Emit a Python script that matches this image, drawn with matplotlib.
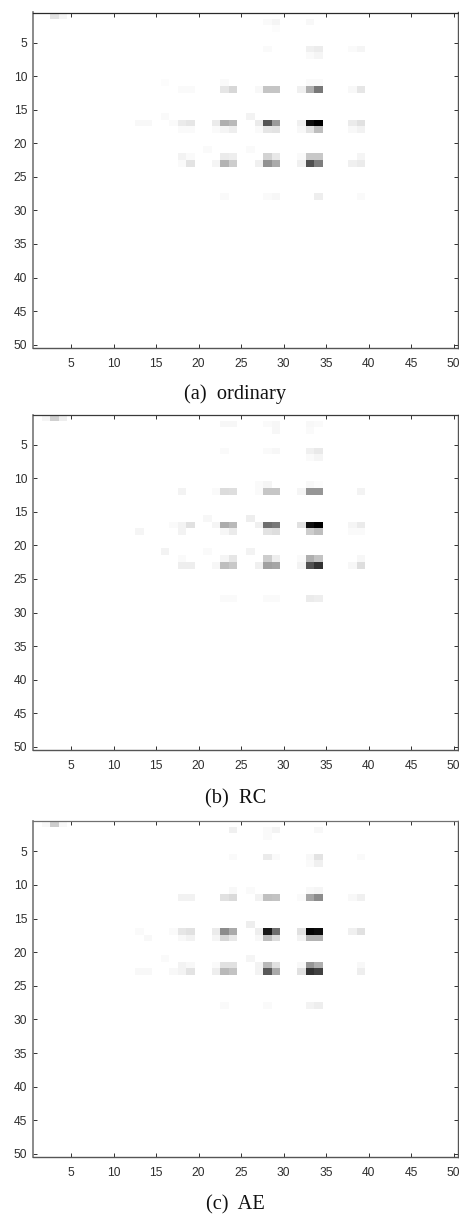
import numpy as np
import matplotlib
matplotlib.use("Agg")
import matplotlib.pyplot as plt

# Each entry: (row, column, gray level; 255 = white, 0 = black)
ordinary_cells = [
    (1,3,228),(1,4,245),
    (2,28,250),(2,29,245),(2,33,248),(3,29,252),
    (6,28,250),(6,33,240),(6,34,236),(6,38,250),(6,39,245),(7,33,250),(7,34,245),
    (11,16,252),(11,23,250),(11,33,250),(11,34,250),
    (12,18,250),(12,19,250),(12,23,230),(12,24,215),(12,27,248),(12,28,197),(12,29,197),
    (12,32,240),(12,33,175),(12,34,120),(12,38,248),(12,39,230),
    (16,16,250),(16,26,243),
    (17,13,248),(17,14,248),(17,17,250),(17,18,235),(17,19,230),(17,22,235),(17,23,175),(17,24,185),
    (17,27,235),(17,28,85),(17,29,155),(17,32,240),(17,33,15),(17,34,0),(17,38,235),(17,39,225),
    (18,18,250),(18,19,250),(18,22,250),(18,23,245),(18,24,238),(18,27,250),(18,28,230),(18,29,228),
    (18,32,248),(18,33,228),(18,34,190),(18,38,248),(18,39,242),
    (21,21,250),(21,26,250),
    (22,18,243),(22,19,250),(22,23,235),(22,24,238),(22,28,212),(22,29,232),(22,32,250),(22,33,200),
    (22,34,200),(22,39,245),
    (23,18,250),(23,19,228),(23,22,245),(23,23,180),(23,24,205),(23,27,240),(23,28,145),(23,29,170),
    (23,32,240),(23,33,80),(23,34,125),(23,38,240),(23,39,235),
    (28,23,250),(28,28,250),(28,29,247),(28,34,238),(28,39,250),
]
rc_cells = [
    (1,2,245),(1,3,208),(1,4,238),
    (2,23,247),(2,24,247),(2,28,250),(2,29,247),(2,33,248),(2,34,250),(3,29,247),(3,33,250),
    (6,23,250),(6,28,250),(6,29,247),(6,33,240),(6,34,233),(7,33,250),(7,34,245),
    (11,27,250),(11,28,245),(11,33,248),(11,34,252),
    (12,18,243),(12,22,250),(12,23,220),(12,24,222),(12,27,250),(12,28,198),(12,29,198),
    (12,32,245),(12,33,150),(12,34,150),(12,39,243),
    (16,21,247),(16,26,238),
    (17,17,250),(17,18,243),(17,19,225),(17,22,245),(17,23,172),(17,24,185),(17,27,240),(17,28,110),
    (17,29,120),(17,32,225),(17,33,15),(17,34,0),(17,38,245),(17,39,235),
    (18,13,245),(18,18,243),(18,23,247),(18,24,235),(18,28,228),(18,29,222),(18,33,205),(18,34,190),
    (18,38,250),(18,39,250),
    (21,16,243),(21,21,250),(21,26,243),
    (22,18,250),(22,23,245),(22,24,230),(22,28,205),(22,29,238),(22,32,250),(22,33,175),(22,34,195),
    (22,39,247),
    (23,18,238),(23,19,238),(23,22,247),(23,23,190),(23,24,200),(23,27,240),(23,28,160),(23,29,165),
    (23,32,243),(23,33,80),(23,34,50),(23,38,247),(23,39,222),
    (28,23,250),(28,24,250),(28,28,250),(28,29,250),(28,33,235),(28,34,238),
]
ae_cells = [
    (1,2,248),(1,3,205),(1,4,248),
    (2,24,240),(2,28,250),(2,29,243),(2,34,248),(3,28,250),
    (6,24,250),(6,28,235),(6,29,250),(6,33,248),(6,34,228),(6,39,250),(7,33,250),(7,34,240),
    (11,24,248),(11,26,250),(11,33,248),(11,34,245),
    (12,18,242),(12,19,242),(12,23,225),(12,24,218),(12,27,242),(12,28,192),(12,29,195),
    (12,32,250),(12,33,165),(12,34,140),(12,38,248),(12,39,240),
    (16,26,238),
    (17,13,250),(17,17,250),(17,18,230),(17,19,225),(17,22,235),(17,23,140),(17,24,170),(17,27,238),
    (17,28,25),(17,29,110),(17,32,225),(17,33,5),(17,34,12),(17,38,240),(17,39,225),
    (18,14,248),(18,18,248),(18,19,242),(18,22,245),(18,23,215),(18,24,232),(18,27,248),(18,28,190),
    (18,29,220),(18,32,243),(18,33,180),(18,34,180),
    (21,16,250),(21,26,245),
    (22,18,243),(22,19,248),(22,22,250),(22,23,225),(22,24,225),(22,27,243),(22,28,185),(22,29,225),
    (22,32,248),(22,33,150),(22,34,175),(22,39,248),
    (23,13,248),(23,14,248),(23,17,248),(23,18,243),(23,19,228),(23,22,238),(23,23,185),(23,24,195),
    (23,27,243),(23,28,90),(23,29,170),(23,32,225),(23,33,50),(23,34,65),(23,39,238),
    (28,23,250),(28,28,250),(28,33,243),(28,34,238),
]
captions = ["(a)  ordinary", "(b)  RC", "(c)  AE"]
panels = [ordinary_cells, rc_cells, ae_cells]
tick_values = [5, 10, 15, 20, 25, 30, 35, 40, 45, 50]
matrix_size = 50

W, H = 459, 1215
fig = plt.figure(figsize=(W / 100, H / 100), dpi=100)
left, right = 32.75, 458.0
tops = [12.5, 414.7, 821.0]
bottoms = [348.0, 750.0, 1157.3]
caption_y = [394.5, 799.0, 1205.0]
top_colors = ["#2a2a2a", "#3a3a3a", "#707070"]

for cells, caption, top, bottom, cy, tc in zip(panels, captions, tops, bottoms, caption_y, top_colors):
    ax = fig.add_axes([left / W, 1 - bottom / H, (right - left) / W, (bottom - top) / H])
    m = np.full((matrix_size, matrix_size), 255.0)
    for r, c, g in cells:
        m[r - 1, c - 1] = g
    ax.imshow(m, cmap="gray", vmin=0, vmax=255, aspect="auto", interpolation="nearest",
              extent=(0.5, matrix_size + 0.5, matrix_size + 0.5, 0.5))
    ax.set_xticks(tick_values)
    ax.set_yticks(tick_values)
    ax.tick_params(direction="in", length=3.0, width=0.7, top=True, right=True,
                   color="#303030", labelcolor="#2e2e2e", labelsize=8.65)
    ax.xaxis.set_tick_params(pad=7)
    ax.yaxis.set_tick_params(pad=4)
    for lab in ax.get_xticklabels() + ax.get_yticklabels():
        lab.set_fontfamily("Liberation Sans")
        lab.set_clip_on(False)
    ax.spines["top"].set_color(tc)
    ax.spines["top"].set_linewidth(0.9)
    ax.spines["bottom"].set_color("#555555")
    ax.spines["bottom"].set_linewidth(1.0)
    ax.spines["left"].set_color("#777777")
    ax.spines["left"].set_linewidth(1.2)
    ax.spines["right"].set_color("#555555")
    ax.spines["right"].set_linewidth(1.0)
    fig.text(235.5 / W, 1 - cy / H, caption, ha="center", va="center",
             fontsize=14.7, family="Liberation Serif", color="#111111")

fig.savefig("out.png", dpi=100)
